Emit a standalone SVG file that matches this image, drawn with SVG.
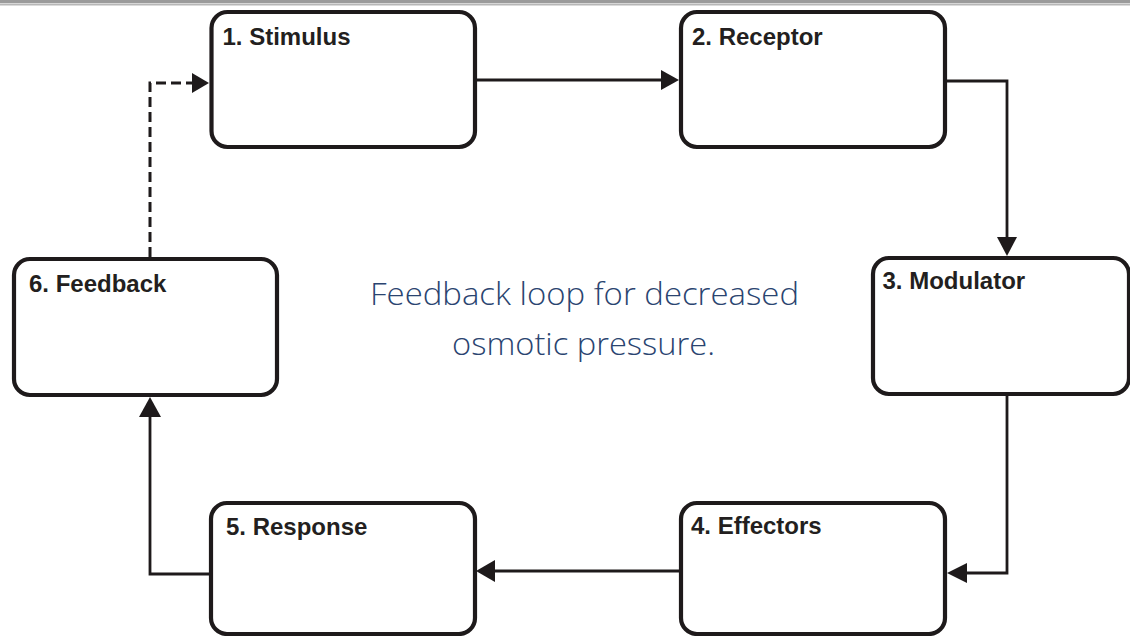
<svg xmlns="http://www.w3.org/2000/svg" width="1130" height="636" viewBox="0 0 1130 636">
  <style>
    .box { fill: #ffffff; stroke: #1e1a1b; stroke-width: 4.2; }
    .lbl { font-family: "Liberation Sans", Arial, sans-serif; font-weight: bold; font-size: 24px; fill: #231f20; }
    .conn { fill: none; stroke: #1e1a1b; stroke-width: 2.8; }
    .dash { stroke-width: 3; stroke-dasharray: 10 5; }
    .head { fill: #1e1a1b; }
    .title { font-family: "Open Sans", "Liberation Sans", sans-serif; font-weight: 300; font-size: 31px; fill: #2a4470; text-anchor: middle; }
  </style>
  <rect x="0" y="0" width="1130" height="636" fill="#ffffff"/>
  <rect x="0" y="0" width="1130" height="3.4" fill="#9b9b9b"/>
  <rect x="0" y="4.2" width="1130" height="1.2" fill="#a6a6a6"/>

  <g id="connectors">
    <line class="conn" x1="477" y1="80" x2="663" y2="80"/>
    <polygon class="head" points="679,80 661,70 661,90"/>

    <path class="conn" d="M947,81 H1007 V239"/>
    <polygon class="head" points="1007,256 997,237 1017,237"/>

    <path class="conn" d="M1007,396 V573 H965"/>
    <polygon class="head" points="947,573 967,563 967,583"/>

    <line class="conn" x1="679" y1="571" x2="493" y2="571"/>
    <polygon class="head" points="476,571 495,560 495,582"/>

    <path class="conn" d="M209,574 H150 V415"/>
    <polygon class="head" points="150,397 139,417 161,417"/>

    <path class="conn dash" d="M150,257 V83 H194"/>
    <polygon class="head" points="209,83 192,73 192,93"/>
  </g>

  <g id="node1">
    <rect class="box" x="211.5" y="12" width="263.5" height="135" rx="16" ry="16"/>
    <text class="lbl" x="222.5" y="45">1. Stimulus</text>
  </g>
  <g id="node2">
    <rect class="box" x="681" y="12" width="264" height="135" rx="16" ry="16"/>
    <text class="lbl" x="692" y="45">2. Receptor</text>
  </g>
  <g id="node3">
    <rect class="box" x="873" y="258" width="256" height="136" rx="16" ry="16"/>
    <text class="lbl" x="882.5" y="289">3. Modulator</text>
  </g>
  <g id="node4">
    <rect class="box" x="681" y="503" width="264" height="131" rx="16" ry="16"/>
    <text class="lbl" x="691" y="534">4. Effectors</text>
  </g>
  <g id="node5">
    <rect class="box" x="211" y="503" width="264" height="131" rx="16" ry="16"/>
    <text class="lbl" x="226" y="535">5. Response</text>
  </g>
  <g id="node6">
    <rect class="box" x="14" y="259" width="263" height="136" rx="16" ry="16"/>
    <text class="lbl" x="29" y="291.5">6. Feedback</text>
  </g>

  <g id="caption">
    <text class="title" x="584.5" y="305" textLength="429" lengthAdjust="spacingAndGlyphs">Feedback loop for decreased</text>
    <text class="title" x="583.5" y="355" textLength="263" lengthAdjust="spacingAndGlyphs">osmotic pressure.</text>
  </g>
</svg>
